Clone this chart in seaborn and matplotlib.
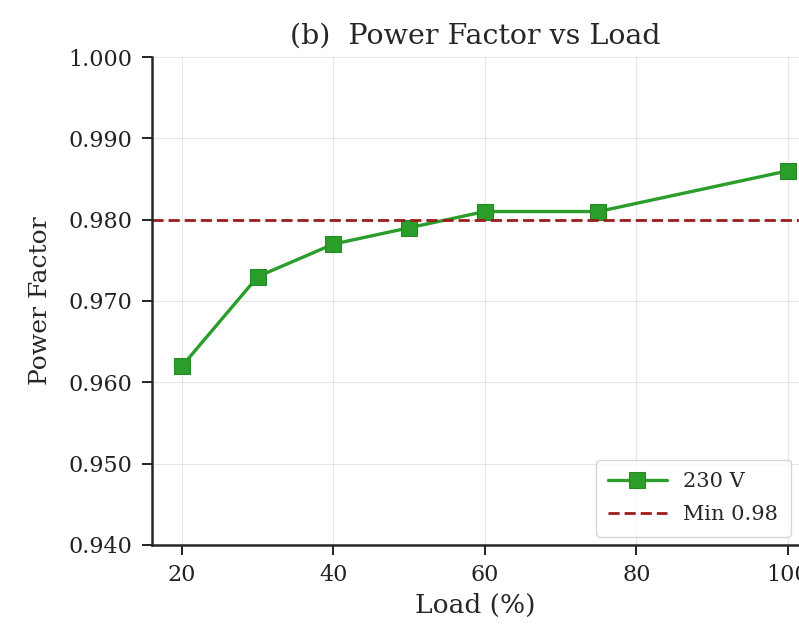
import numpy as np
import pandas as pd
import seaborn as sns
import matplotlib.pyplot as plt

# data
load_pct = [20, 30, 40, 50, 60, 75, 100]
power_factor = [0.962, 0.973, 0.977, 0.979, 0.981, 0.981, 0.986]
pf_min = 0.98
y_ticks = [0.940, 0.950, 0.960, 0.970, 0.980, 0.990, 1.000]
x_ticks = [20, 40, 60, 80, 100]

df = pd.DataFrame({"Load": load_pct, "PF": power_factor})

sns.set_style("ticks")
plt.rcParams['font.family'] = ['DejaVu Serif']

fig = plt.figure(figsize=(7.99, 6.27), dpi=100)
ax = fig.add_axes([0.19, 0.131, 0.81, 0.778])

sns.lineplot(data=df, x="Load", y="PF", ax=ax, color="#2a9d2a", marker="s",
             markersize=11, linewidth=2.4, markeredgecolor="#238a23", label="230 V")
ax.axhline(pf_min, color="#9b1c1c", linestyle=(0, (4, 1.8)), linewidth=2.0, label="Min 0.98")

ax.set_xlim(16, 101.5)
ax.set_ylim(0.94, 1.0)
ax.set_xticks(x_ticks)
ax.set_yticks(y_ticks)
ax.set_yticklabels([f"{v:.3f}" for v in y_ticks])
ax.grid(True, color="#dddddd", linewidth=0.8, alpha=0.7)
ax.tick_params(labelsize=16, width=1.4, length=7, pad=7, colors="#222222")
for s in ["left", "bottom"]:
    ax.spines[s].set_linewidth(1.8)
sns.despine(ax=ax)

ax.set_title("(b)  Power Factor vs Load", fontsize=20.5, pad=10)
ax.set_xlabel("Load (%)", fontsize=19, labelpad=5)
ax.set_ylabel("Power Factor", fontsize=18, labelpad=12)
ax.legend(loc="lower right", fontsize=15, frameon=True, handlelength=2.8,
          borderaxespad=0.4, labelspacing=0.65, borderpad=0.6)

fig.savefig("out.png", dpi=100)
